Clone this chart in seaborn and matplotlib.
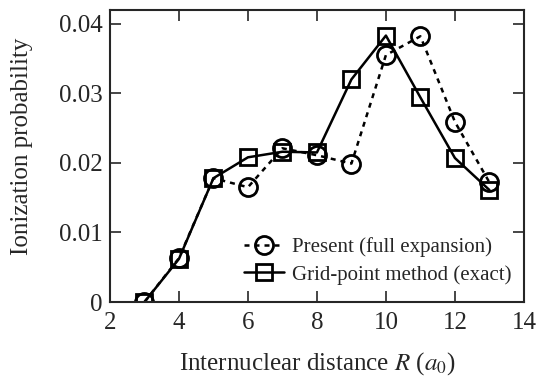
import numpy as np
import pandas as pd
import seaborn as sns
import matplotlib.pyplot as plt
from matplotlib.ticker import FuncFormatter

# Data
R = [3, 4, 5, 6, 7, 8, 9, 10, 11, 12, 13]
present = [0.0, 0.0063, 0.0178, 0.0165, 0.0221, 0.0211, 0.0199, 0.0355, 0.0382, 0.0259, 0.0172]
grid = [0.0, 0.0062, 0.0178, 0.0208, 0.0216, 0.0215, 0.0320, 0.0383, 0.0294, 0.0207, 0.0161]

sns.set_style("ticks")
plt.rcParams['font.family'] = ['Liberation Serif', 'DejaVu Serif']
plt.rcParams['mathtext.fontset'] = 'stix'

df = pd.DataFrame({'R': R, 'present': present, 'grid': grid})

fig = plt.figure(figsize=(5.39, 3.78), dpi=100)
ax = fig.add_axes([0.204, 0.201, 0.768, 0.773])

sns.lineplot(data=df, x='R', y='present', ax=ax, color='black', lw=1.8,
             linestyle=(0, (2.0, 2.0)), marker='o', markersize=13,
             markerfacecolor='none', markeredgecolor='black',
             markeredgewidth=2.0, label='Present (full expansion)')
sns.lineplot(data=df, x='R', y='grid', ax=ax, color='black', lw=1.8,
             linestyle='-', marker='s', markersize=12,
             markerfacecolor='none', markeredgecolor='black',
             markeredgewidth=2.0, label='Grid-point method (exact)')

ax.set_xlim(2, 14)
ax.set_ylim(0, 0.042)
ax.set_xticks([2, 4, 6, 8, 10, 12, 14])
ax.set_yticks([0, 0.01, 0.02, 0.03, 0.04])
ax.yaxis.set_major_formatter(FuncFormatter(lambda v, p: '%g' % v))
ax.tick_params(direction='in', length=8, width=1.2, top=True, right=True,
               labelsize=18)
ax.tick_params(axis='x', pad=7.5)
ax.tick_params(axis='y', pad=5.5)
for s in ax.spines.values():
    s.set_linewidth(1.5)

ax.set_xlabel('Internuclear distance $R$ ($a_0$)', fontsize=18, labelpad=11)
ax.set_ylabel('Ionization probability', fontsize=18)
ax.yaxis.set_label_coords(-0.186, 0.534)

ax.legend(loc='lower right', frameon=False, fontsize=15, handlelength=1.9,
          handletextpad=0.4, labelspacing=0.39, borderaxespad=0.6,
          bbox_to_anchor=(1.02, -0.012))

fig.savefig('out.png', dpi=100)
